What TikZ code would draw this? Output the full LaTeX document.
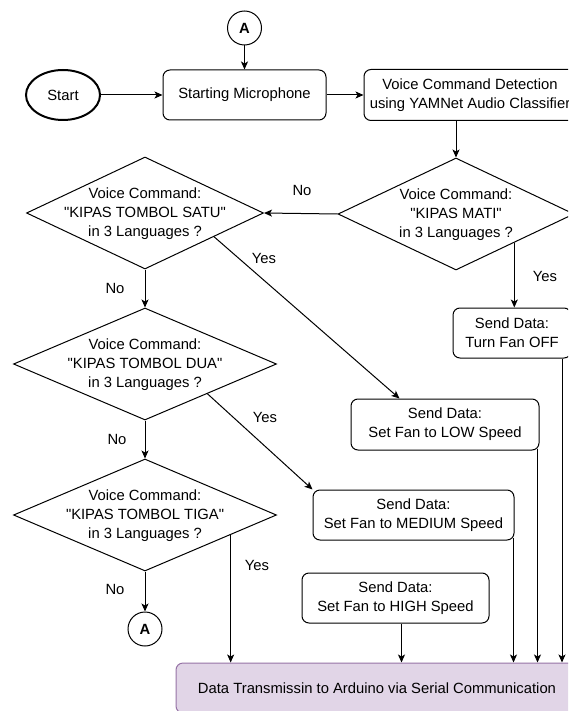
\documentclass[tikz,border=0pt]{standalone}
\usepackage{fontspec}
\setmainfont{Liberation Sans}[Ligatures=TeXOff]
\usetikzlibrary{arrows.meta,shapes.geometric,calc}
\definecolor{purpfill}{HTML}{E1D5E7}
\definecolor{purpdraw}{HTML}{9673A6}
\newcommand\fsz{\fontsize{14.8}{19}\selectfont}
\tikzset{
  base/.style={font=\fsz, align=center, text=black},
  proc/.style={draw, rounded corners=7pt, line width=1pt, base, inner sep=0pt},
  dec/.style={draw, diamond, inner sep=0pt, line width=1pt},
  conn/.style={draw, circle, line width=1pt, minimum size=34pt, inner sep=0pt, font=\bfseries\fsz},
  arr/.style={-{Stealth[length=8pt,width=7pt,inset=2pt]}, line width=1pt},
  lbl/.style={font=\fsz, inner sep=0pt}
}
\begin{document}
\begin{tikzpicture}[x=1pt,y=-1pt]
\clip (0,0) rectangle (568,711);
\fill[white] (0,0) rectangle (568,711);

% nodes
\node[conn] (atop) at (244.5,28) {A};
\node[draw, ellipse, line width=2pt, minimum width=74pt, minimum height=50pt, base, inner sep=0pt] (start) at (63,95) {Start};
\node[proc, minimum width=163pt, minimum height=50pt] (mic) at (244.5,95) {Starting Microphone};
\node[proc, minimum width=212pt, minimum height=51pt] (vcd) at (470,95) {Voice Command Detection\\using YAMNet Audio Classifier};

\node[dec, minimum width=236pt, minimum height=112pt] (mati) at (456,214) {};
\node[base] (matit) at (456,215) {Voice Command:\\"KIPAS MATI"\\in 3 Languages ?};

\node[proc, minimum width=118pt, minimum height=50pt] (off) at (512,333) {Send Data:\\Turn Fan OFF};

\node[dec, minimum width=237pt, minimum height=112pt] (satu) at (145,213) {};
\node[base] (satut) at (145,214) {Voice Command:\\"KIPAS TOMBOL SATU"\\in 3 Languages ?};

\node[dec, minimum width=263pt, minimum height=112pt] (dua) at (145,364) {};
\node[base] (duat) at (145,365) {Voice Command:\\"KIPAS TOMBOL DUA"\\in 3 Languages ?};

\node[dec, minimum width=263pt, minimum height=112pt] (tiga) at (145,515) {};
\node[base] (tigat) at (145,516) {Voice Command:\\"KIPAS TOMBOL TIGA"\\in 3 Languages ?};

\node[conn] (abot) at (145,629) {A};

\node[proc, minimum width=188pt, minimum height=51pt] (low) at (445,424.5) {Send Data:\\Set Fan to LOW Speed};
\node[proc, minimum width=201pt, minimum height=50pt] (med) at (413.5,515) {Send Data:\\Set Fan to MEDIUM Speed};
\node[proc, minimum width=187pt, minimum height=50pt] (high) at (395.5,598) {Send Data:\\Set Fan to HIGH Speed};
\node[proc, fill=purpfill, draw=purpdraw, minimum width=402pt, minimum height=50pt] (ard) at (377,688) {Data Transmissin to Arduino via Serial Communication};

% connectors
\draw[arr] (atop) -- (mic);
\draw[arr] (start) -- (mic);
\draw[arr] (mic) -- (vcd);
\draw[arr] (mati.north |- vcd.south) -- (mati.north);
\draw[arr] (mati.west) -- (satu.east);
\coordinate (matiY) at ($(mati.east)!0.508!(mati.south)$);
\draw[arr] (matiY) -- (matiY |- off.north);
\coordinate (satuY) at ($(satu.east)!0.42!(satu.south)$);
\coordinate (lowin) at ([xshift=49pt]low.north west);
\draw[arr] (satuY) -- (lowin);
\draw[arr] (satu.south) -- (dua.north);
\coordinate (duaY) at ($(dua.east)!0.527!(dua.south)$);
\draw[arr] (duaY) -- (med.north west);
\draw[arr] (dua.south) -- (tiga.north);
\coordinate (tigaY) at ($(tiga.east)!0.351!(tiga.south)$);
\draw[arr] (tigaY) -- (tigaY |- ard.north);
\draw[arr] (tiga.south) -- (abot);
\coordinate (highout) at ([xshift=6pt]high.south);
\draw[arr] (highout) -- (highout |- ard.north);
\coordinate (medout) at ([xshift=-1pt,yshift=3pt]med.south east);
\draw[arr] (medout) -- (medout |- ard.north);
\coordinate (lowout) at ([xshift=-2pt,yshift=2pt]low.south east);
\draw[arr] (lowout) -- (lowout |- ard.north);
\coordinate (offout) at ([xshift=50pt]off.south);
\draw[arr] (offout) -- (offout |- ard.north);

% labels
\node[lbl] (l1) at (302,190) {No};
\node[lbl] (l2) at (545,276) {Yes};
\node[lbl] (l3) at (264,258) {Yes};
\node[lbl] (l4) at (115,288) {No};
\node[lbl] (l5) at (265,417) {Yes};
\node[lbl] (l6) at (117,439) {No};
\node[lbl] (l7) at (257,565) {Yes};
\node[lbl] (l8) at (115,589) {No};
\end{tikzpicture}
\end{document}
